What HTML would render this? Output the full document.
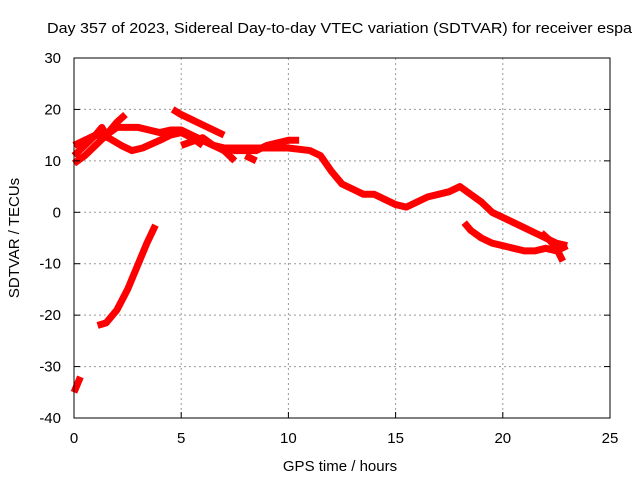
<!DOCTYPE html>
<html><head><meta charset="utf-8"><style>
body{margin:0;background:#fff}
svg{display:block;font-family:"Liberation Sans",sans-serif}
</style></head><body>
<svg id="c" width="640" height="480">
<rect width="640" height="480" fill="#fff"/>
<text x="47" y="33" font-size="15" textLength="585" lengthAdjust="spacingAndGlyphs">Day 357 of 2023, Sidereal Day-to-day VTEC variation (SDTVAR) for receiver espa</text>
<g id="grid"></g>
<g id="series"></g>
<rect x="74" y="58" width="536" height="360" fill="none" stroke="#000" stroke-width="1"/>
<g id="ticks"></g>
<text x="340" y="471" font-size="15" text-anchor="middle">GPS time / hours</text>
<text transform="translate(19,238) rotate(-90)" font-size="15" text-anchor="middle">SDTVAR / TECUs</text>
</svg>
<script>
const xTicks=[0,5,10,15,20,25];
const yTicks=[-40,-30,-20,-10,0,10,20,30];
const seriesA_h=[1.1,1.5,2.0,2.5,3.0,3.4,3.8];
const seriesA_v=[-22,-21.5,-19,-15,-10,-6,-2.5];
const seriesB_h=[0,0.15,0.3];
const seriesB_v=[-35,-33.5,-32];
const track1_h=[0,0.5,1.0,1.5,2.0,2.4];
const track1_v=[9.5,11,13,15,17.5,19];
const track2_h=[0,0.5,1.0,1.3,1.5,2,2.5,3,3.5,4,4.5,5,5.5,6,6.5,7,8,9,10,11,11.5,12,12.5,13,13.5,14,14.5,15,15.5,16,16.5,17,17.5,18,18.5,19,19.5,20,20.5,21,21.5,22,22.5,23];
const track2_v=[11,13,15,16.5,15,16.5,16.5,16.5,16,15.5,16,16,15,14,13,12.5,12.5,12.5,12.5,12,11,8,5.5,4.5,3.5,3.5,2.5,1.5,1,2,3,3.5,4,5,3.5,2,0,-1,-2,-3,-4,-5,-6,-6.5];
const track3_h=[0,0.5,1.0,1.6,2.2,2.7,3.2,4,4.5,5,5.5,6];
const track3_v=[13,14,15,14.5,13,12,12.5,14,15,15.5,14.5,13];
const track4_h=[4.6,5,5.5,6,6.5,7];
const track4_v=[20,19,18,17,16,15];
const track5_h=[5,6,6.5,7.5,8.5,9,10,10.5];
const track5_v=[13,14.5,13,12,12,13,14,14];
const track6_h=[6,7,7.5];
const track6_v=[14,12,10];
const track7_h=[8,8.5];
const track7_v=[11,10];
const track8_h=[18.2,18.5,19,19.5,20,20.5,21,21.5,22,22.5,23];
const track8_v=[-2,-3.5,-5,-6,-6.5,-7,-7.5,-7.5,-7,-7.5,-6.5];
const track9_h=[21.8,22.2,22.5,22.8];
const track9_v=[-4,-5.5,-7,-9.5];

const X=h=>74+h*536/25;
const Y=v=>58+(30-v)*360/70;
const NS="http://www.w3.org/2000/svg";
const grid=document.getElementById('grid'),ticks=document.getElementById('ticks'),ser=document.getElementById('series');
function mk(tag,attrs,parent){const e=document.createElementNS(NS,tag);for(const k in attrs)e.setAttribute(k,attrs[k]);parent.appendChild(e);return e;}
xTicks.forEach(t=>{
  if(t>0&&t<25){const l=mk('line',{x1:X(t),x2:X(t),y1:58,y2:418,stroke:'#999','stroke-dasharray':'2,3'},grid);
  
  }
  const tk=mk('line',{x1:X(t),x2:X(t),y1:418,y2:412,stroke:'#000'},ticks);
  
  
  const tx=mk('text',{x:X(t),y:443,'font-size':15,'text-anchor':'middle'},ticks);tx.textContent=t;
  
  
});
yTicks.forEach(t=>{
  if(t>-40&&t<30){const l=mk('line',{x1:74,x2:610,y1:Y(t),y2:Y(t),stroke:'#999','stroke-dasharray':'2,3'},grid);
  
  }
  const tk=mk('line',{x1:74,x2:80,y1:Y(t),y2:Y(t),stroke:'#000'},ticks);
  
  
  const tk2=mk('line',{x1:604,x2:610,y1:Y(t),y2:Y(t),stroke:'#000'},ticks);
  
  
  const tx=mk('text',{x:61,y:Y(t)+5,'font-size':15,'text-anchor':'end'},ticks);tx.textContent=t;
  
  
});
const all=[[seriesA_h,seriesA_v],[seriesB_h,seriesB_v],[track1_h,track1_v],[track2_h,track2_v],[track3_h,track3_v],[track4_h,track4_v],[track5_h,track5_v],[track6_h,track6_v],[track7_h,track7_v],[track8_h,track8_v],[track9_h,track9_v]];
all.forEach(([hs,vs],i)=>{
  const pts=hs.map((h,j)=>X(h)+','+Y(vs[j])).join(' ');
  const p=mk('polyline',{points:pts,fill:'none',stroke:'#f00','stroke-width':7,'stroke-linejoin':'round'},ser);
  
  
});
</script>
</body></html>
